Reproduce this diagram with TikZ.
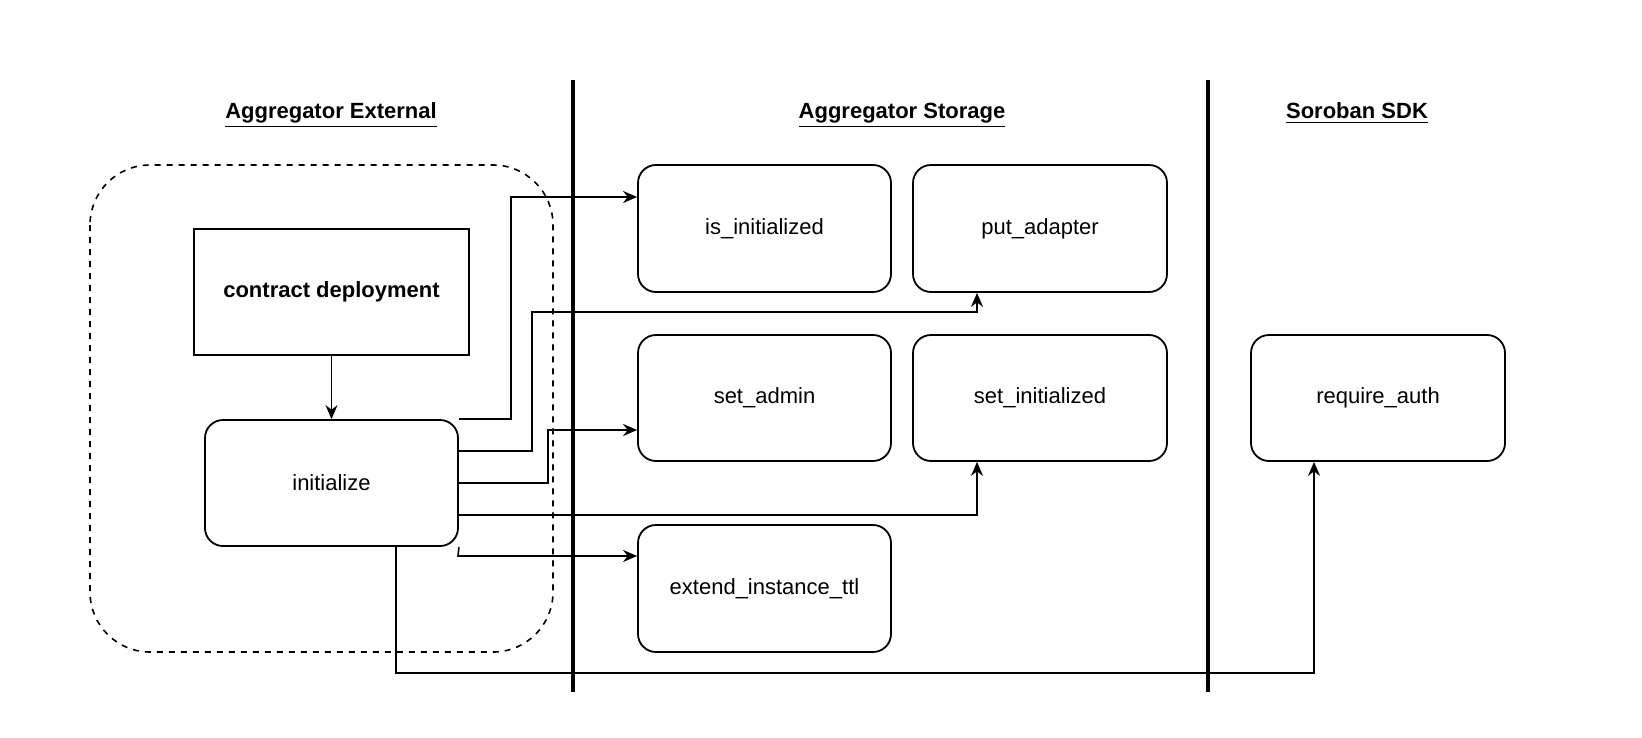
\documentclass[tikz,border=0pt]{standalone}
\usepackage{fontspec}
\setmainfont{Liberation Sans}
\usetikzlibrary{arrows.meta}
\begin{document}
\begin{tikzpicture}[x=0.5pt,y=-0.5pt,
  box/.style={draw,line width=0.9pt,rounded corners=9pt,font=\fontsize{11}{13}\selectfont},
  hdr/.style={font=\fontsize{11}{13}\selectfont\bfseries,anchor=base},
  conn/.style={draw,line width=0.8pt,-{Stealth[length=7pt,width=6pt]}},
  sep/.style={line width=1.8pt}]
\useasboundingbox (0,0) rectangle (1642,738);
\node[hdr] (h1) at (331,119) {\underline{Aggregator External}};
\node[hdr] (h2) at (902,119) {\underline{Aggregator Storage}};
\node[hdr] (h3) at (1357,119) {\underline{Soroban SDK}};
\draw[sep] (573,80) -- (573,692);
\draw[sep] (1208,80) -- (1208,692);
\draw[dashed,line width=0.8pt,rounded corners=30pt] (90,165) rectangle (553,652);
\node[draw,line width=0.9pt,minimum width=137.5pt,minimum height=63pt,font=\fontsize{11}{13}\selectfont\bfseries] (cd) at (331.5,292) {contract deployment};
\node[box,minimum width=126.5pt,minimum height=63pt] (ini) at (331.5,483) {initialize};
\node[box,minimum width=126.5pt,minimum height=63.5pt] (isi) at (764.5,228.5) {is\_initialized};
\node[box,minimum width=127pt,minimum height=63.5pt] (pa) at (1040,228.5) {put\_adapter};
\node[box,minimum width=126.5pt,minimum height=63pt] (sa) at (764.5,398) {set\_admin};
\node[box,minimum width=127pt,minimum height=63pt] (si) at (1040,398) {set\_initialized};
\node[box,minimum width=126.5pt,minimum height=63.5pt] (ext) at (764.5,588.5) {extend\_instance\_ttl};
\node[box,minimum width=127pt,minimum height=63pt] (ra) at (1378,398) {require\_auth};
\draw[conn] (cd.south) -- (ini.north);
\draw[conn] (ini.east |- 0,419) -- (511,419) -- (511,197) -- (isi.west |- 0,197);
\draw[conn] (ini.east |- 0,451) -- (532,451) -- (532,312) -- (977,312) -- (pa.south -| 977,0);
\draw[conn] (ini.east |- 0,483) -- (548,483) -- (548,430) -- (sa.west |- 0,430);
\draw[conn] (ini.east |- 0,515) -- (977,515) -- (si.south -| 977,0);
\draw[conn] (ini.east |- 0,547) -- (458,556) -- (ext.west |- 0,556);
\draw[conn] (ini.south -| 396,0) -- (396,673) -- (1314,673) -- (ra.south -| 1314,0);
\end{tikzpicture}
\end{document}
